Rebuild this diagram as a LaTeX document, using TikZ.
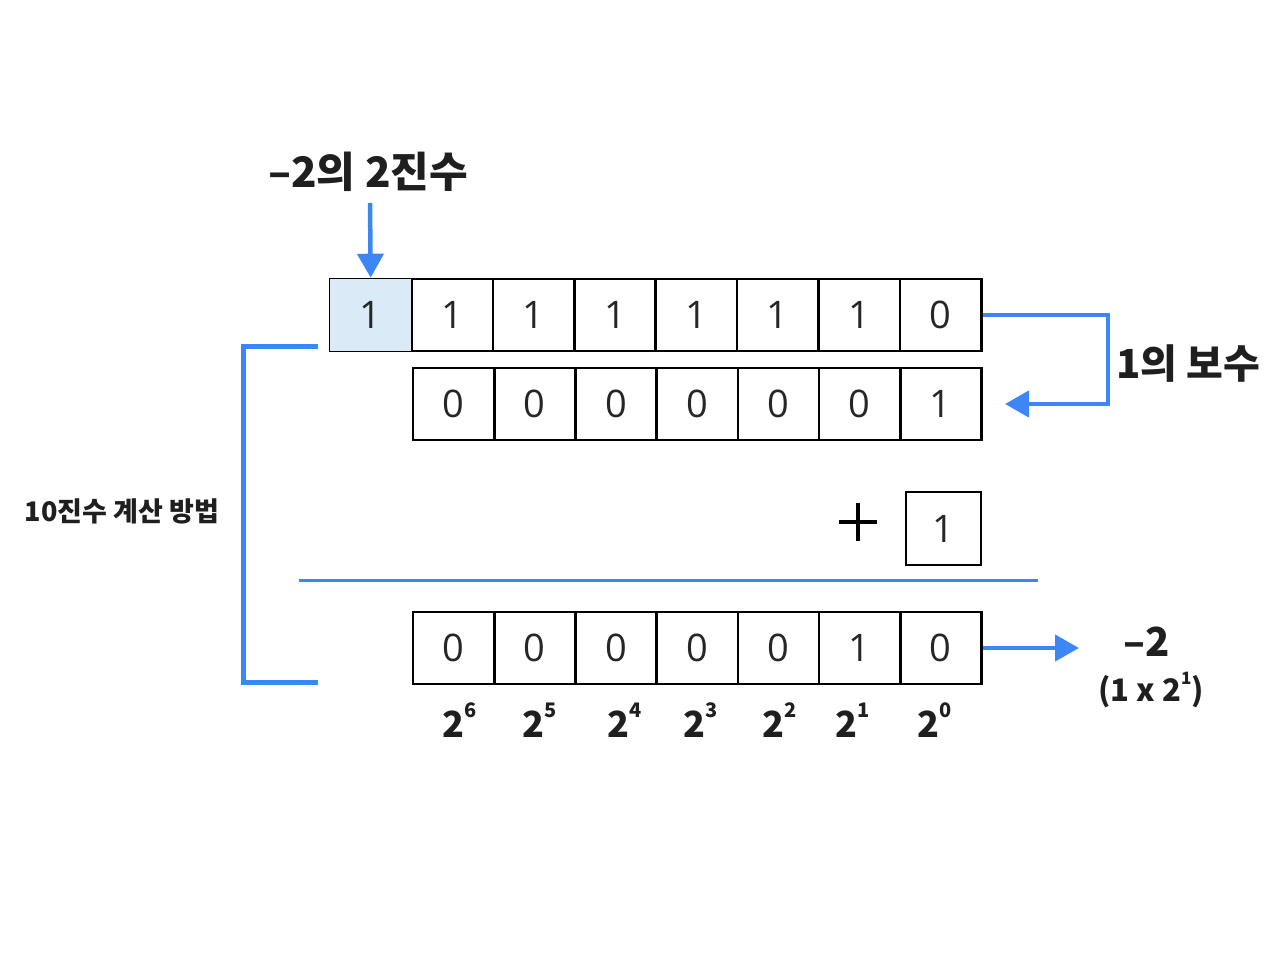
\documentclass[tikz,border=0pt]{standalone}
\usepackage{fontspec}
\usetikzlibrary{arrows.meta,calc}
\newfontfamily\krb{Noto Sans CJK KR Black}
\newfontfamily\dig{Open Sans}
\definecolor{lblue}{HTML}{3D86F6}
\definecolor{cellfill}{HTML}{DAEBF7}
\newcommand{\pwr}[1]{2\raisebox{0.55em}{\fontsize{20pt}{20pt}\selectfont #1}}
\begin{document}
\begin{tikzpicture}[x=1pt,y=-1pt,
  cellbox/.style={draw=black,line width=2.6pt,minimum width=81.4pt,minimum height=72pt,inner sep=0pt,
     font=\dig\fontsize{38pt}{40pt}\selectfont,text=black!85},
  bl/.style={draw=lblue,line width=4.5pt},
  tipb/.style={-{Triangle[length=24pt,width=26pt]}},
  krlab/.style={font=\krb\fontsize{#1}{#1}\selectfont,text=black!88,inner sep=0pt}]
\useasboundingbox (0,0) rectangle (1280,960);
% row 1
\foreach \v [count=\i] in {1,1,1,1,1,1,1,0}{
  \node[cellbox] (a\i) at ({330+81.4*(\i-0.5)},315) {\v};
}
\fill[cellfill] ($(a1.north west)+(1.3,1.3)$) rectangle ($(a1.south east)+(-1.3,-1.3)$);
\node[font=\dig\fontsize{38pt}{40pt}\selectfont,text=black!85] at (a1) {1};
% row 2
\foreach \v [count=\i] in {0,0,0,0,0,0,1}{
  \node[cellbox,minimum width=81.2pt] (b\i) at ({413+81.2*(\i-0.5)},404) {\v};
}
% plus one
\node[cellbox,minimum width=75pt,minimum height=73pt] (p1) at (943.5,528.5) {1};
\node[inner sep=0pt] (plus) at (858,522) {};
\draw[line width=4.2pt,black] ($(plus)+(-19,0)$) -- ($(plus)+(19,0)$) ($(plus)+(0,-19)$) -- ($(plus)+(0,19)$);
% sum line
\coordinate (sl) at (299,580);
\coordinate (sr) at (1038,580);
\draw[draw=lblue,line width=3pt] (sl) -- (sr);
% row 3
\foreach \v [count=\i] in {0,0,0,0,0,1,0}{
  \node[cellbox,minimum width=81.2pt] (c\i) at ({413+81.2*(\i-0.5)},648) {\v};
}
% powers
\foreach \e/\x [count=\i] in {6/460,5/540,4/625,3/701,2/780,1/853,0/935}{
  \node[krlab=36pt] (pw\i) at (\x,720) {\pwr{\e}};
}
% title and arrow
\node[krlab=42pt] (title) at (368,172) {–2의 2진수};
\coordinate (tarr) at (370,203);
\draw[bl,tipb] (tarr) -- (a1.north);
% one's complement connector
\coordinate (oc1) at (1108,315);
\coordinate (oc2) at (1108,404);
\coordinate (oc3) at (1005,404);
\draw[bl,tipb] (a8.east) -- (oc1) -- (oc2) -- (oc3);
\node[krlab=40pt] (onec) at (1188,364) {1의 보수};
% result arrow
\coordinate (rt) at (1079,648);
\draw[bl,tipb] (c7.east) -- (rt);
\node[krlab=40pt] (m2) at (1147,642) {–2};
\node[krlab=31pt] (expl) at (1151,690) {(1 x 2\raisebox{0.55em}{\fontsize{17pt}{17pt}\selectfont 1})};
% left bracket
\coordinate (lb1) at (318,346);
\coordinate (lb2) at (243,346);
\coordinate (lb3) at (243,682);
\coordinate (lb4) at (318,682);
\draw[bl,line width=5pt] (lb1) -- (lb2) -- (lb3) -- (lb4);
\node[krlab=27pt] (dec) at (122,511) {10진수 계산 방법};
\end{tikzpicture}
\end{document}
